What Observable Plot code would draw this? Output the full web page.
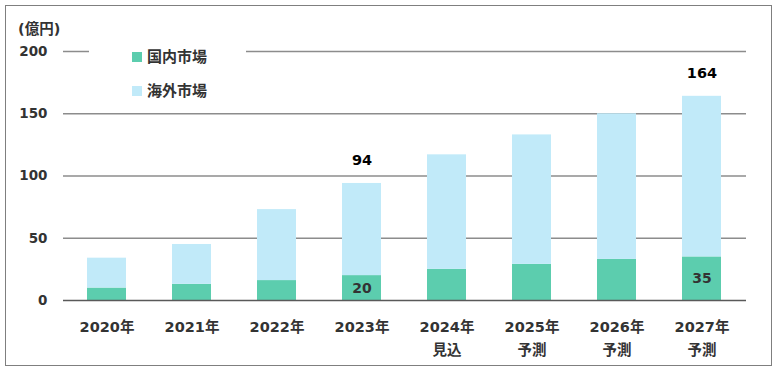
<!DOCTYPE html>
<html><head><meta charset="utf-8">
<script src="https://cdn.jsdelivr.net/npm/d3@7"></script>
<script src="https://cdn.jsdelivr.net/npm/@observablehq/plot@0.6"></script>
<style>
html,body{margin:0;padding:0;background:#fff;}
#wrap{position:relative;width:778px;height:372px;font-family:"DejaVu Sans","Noto Sans CJK JP",sans-serif;}
#frame{position:absolute;left:5px;top:5px;width:765px;height:359px;border:1.5px solid #7f7f7f;}
#unit{position:absolute;left:18px;top:17px;font-size:14.5px;font-weight:bold;color:#333;}
#legend{position:absolute;left:89px;top:42px;width:157px;height:64px;background:#fff;font-size:15px;font-weight:bold;color:#333;}
.li{position:absolute;left:43px;display:flex;align-items:center;white-space:nowrap;line-height:18px;}
.sw{width:10px;height:10px;margin-right:5px;}
svg{position:absolute;left:0;top:0;}
</style></head><body>
<div id="wrap"><div id="frame"></div><div id="chart"></div>
<div id="unit">(億円)</div>
<div id="legend"></div></div>
<script>
const years = ["2020年","2021年","2022年","2023年","2024年","2025年","2026年","2027年"];
const subLabels = ["","","","","見込","予測","予測","予測"];
const domestic = [10,13,16,20,25,29,33,35];
const overseas = [24,32,57,74,92,104,117,129];
const totals = [34,45,73,94,117,133,150,164];
const seriesNames = ["国内市場","海外市場"];
const seriesColors = ["#5ccdae","#c1eaf9"];
const yTicks = [0,50,100,150,200];
const totalLabelYears = ["2023年","2027年"];
const domLabelYears = ["2023年","2027年"];

const rows = [];
years.forEach((y,i)=>{
  rows.push({year:y, series:seriesNames[0], value:domestic[i], order:0});
  rows.push({year:y, series:seriesNames[1], value:overseas[i], order:1});
});
const totalRows = years.map((y,i)=>({year:y,total:totals[i],dom:domestic[i]}));
const labelMap = Object.fromEntries(years.map((y,i)=>[y, subLabels[i] ? y+"\n"+subLabels[i] : y]));

const chart = Plot.plot({
  width:778, height:372,
  marginLeft:63, marginRight:32, marginTop:51, marginBottom:72,
  style:{fontFamily:'"DejaVu Sans","Noto Sans CJK JP",sans-serif', background:"transparent"},
  x:{domain:years, paddingInner:0.54, paddingOuter:0.27, align:0.5, label:null},
  y:{domain:[0,200], label:null},
  color:{domain:seriesNames, range:seriesColors},
  marks:[
    Plot.ruleY(yTicks.filter(d=>d>0), {stroke:"#8c8c8c", strokeWidth:1.3}),
    Plot.barY(rows, Plot.stackY({x:"year", y:"value", fill:"series", order:"order"})),
    Plot.ruleY([0], {stroke:"#595959", strokeWidth:1.3}),
    Plot.axisY(yTicks, {tickSize:0, tickPadding:16, fontSize:13.5, fontWeight:"bold", fill:"#333", stroke:null}),
    Plot.axisX({tickSize:0, tickPadding:15, fontSize:14.5, fontWeight:"bold", fill:"#333", lineHeight:1.6, tickFormat:d=>labelMap[d]}),
    Plot.text(totalRows.filter(d=>totalLabelYears.includes(d.year)), {x:"year", y:"total", text:d=>String(d.total), dy:-23, fontSize:14.5, fontWeight:"bold", fill:"#000"}),
    Plot.text(totalRows.filter(d=>domLabelYears.includes(d.year)), {x:"year", y:d=>d.dom/2, text:d=>String(d.dom), fontSize:14, fontWeight:"bold", fill:"#333"})
  ]
});
document.getElementById("chart").appendChild(chart);

const leg = document.getElementById("legend");
seriesNames.forEach((n,i)=>{
  const d = document.createElement("div");
  d.className="li"; d.style.top = (6+i*34)+"px";
  d.innerHTML = `<span class="sw" style="background:${seriesColors[i]}"></span><span>${n}</span>`;
  leg.appendChild(d);
});
</script></body></html>
